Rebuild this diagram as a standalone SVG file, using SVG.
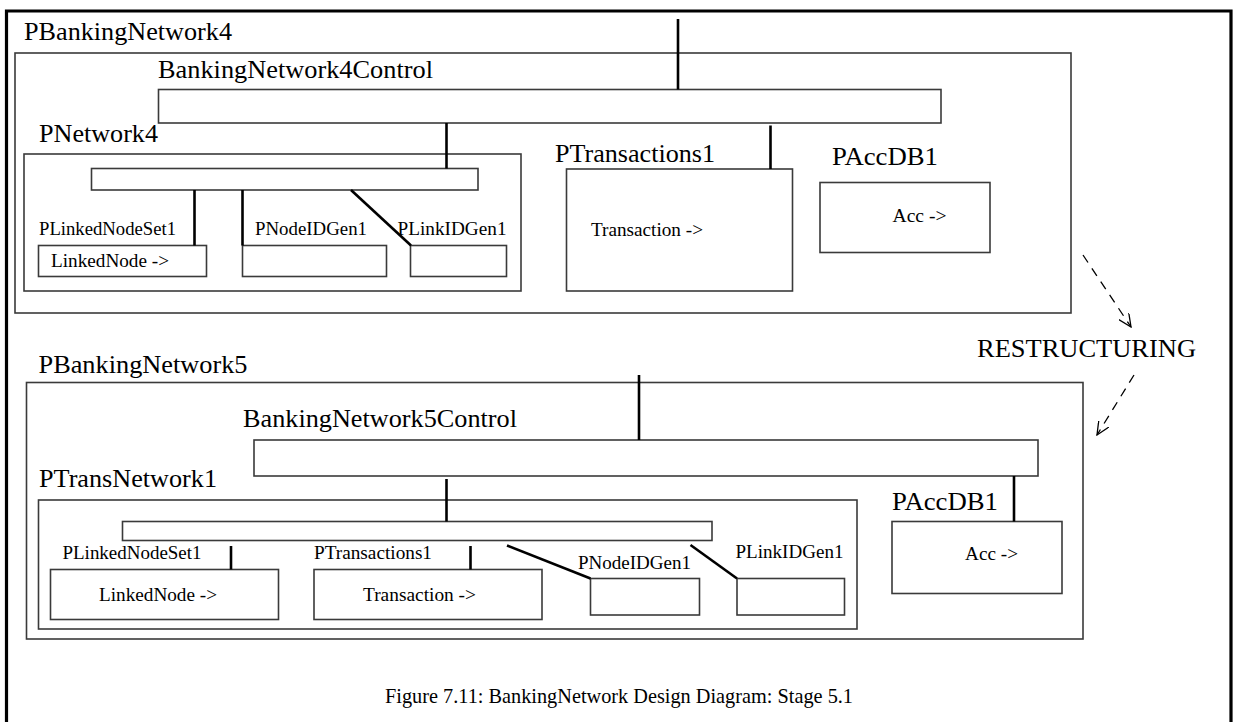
<svg xmlns="http://www.w3.org/2000/svg" width="1239" height="722" viewBox="0 0 1239 722">
  <style>
    .box { fill: #fff; stroke: #3a3a3a; stroke-width: 1.6; }
    .bar { fill: #fff; stroke: #3a3a3a; stroke-width: 1.6; }
    .link { stroke: #000; stroke-width: 2.6; fill: none; }
    .flow { stroke: #000; stroke-width: 1.3; fill: none; stroke-dasharray: 9 7; }
    .frame { stroke: #000; stroke-width: 3.2; fill: none; }
    .big { font-family: "Liberation Serif", "Times New Roman", serif; font-size: 26px; fill: #000; }
    .small { font-family: "Liberation Serif", "Times New Roman", serif; font-size: 19px; fill: #000; }
    .caption { font-family: "Liberation Serif", "DejaVu Serif", serif; font-size: 22px; fill: #000; }
  </style>
  <defs>
    <marker id="openHead" viewBox="0 0 14 12" refX="13" refY="6" markerWidth="14" markerHeight="12" markerUnits="userSpaceOnUse" orient="auto">
      <path d="M0,0 L13,6 L0,12" fill="none" stroke="#000" stroke-width="1.3"/>
    </marker>
  </defs>

  <rect width="1239" height="722" fill="#fff"/>

  <!-- page frame (open at the bottom) -->
  <path class="frame" d="M6.5,722 V11 H1231 V722"/>

  <!-- ===== Stage: PBankingNetwork4 ===== -->
  <g id="PBankingNetwork4">
    <text class="big" x="24" y="40" textLength="208" lengthAdjust="spacingAndGlyphs">PBankingNetwork4</text>
    <rect class="box" x="15" y="53" width="1056" height="260"/>
  </g>
  <g id="BankingNetwork4Control">
    <text class="big" x="158" y="78" textLength="275" lengthAdjust="spacingAndGlyphs">BankingNetwork4Control</text>
    <rect class="bar" x="158.5" y="89.5" width="782.5" height="33.5"/>
  </g>
  <g id="PNetwork4">
    <text class="big" x="39" y="142" textLength="119" lengthAdjust="spacingAndGlyphs">PNetwork4</text>
    <rect class="box" x="24" y="154" width="497" height="137"/>
    <rect class="bar" x="91.5" y="168.5" width="386.5" height="21.5"/>
  </g>
  <g id="PLinkedNodeSet1-a">
    <text class="small" x="39" y="235" textLength="137" lengthAdjust="spacingAndGlyphs">PLinkedNodeSet1</text>
    <rect class="box" x="38.5" y="245.5" width="168" height="31"/>
    <text class="small" x="51" y="266.5" textLength="118" lengthAdjust="spacingAndGlyphs">LinkedNode -&gt;</text>
  </g>
  <g id="PNodeIDGen1-a">
    <text class="small" x="255" y="235" textLength="112" lengthAdjust="spacingAndGlyphs">PNodeIDGen1</text>
    <rect class="box" x="242.5" y="245.5" width="144" height="31"/>
  </g>
  <g id="PLinkIDGen1-a">
    <text class="small" x="397.5" y="235" textLength="109" lengthAdjust="spacingAndGlyphs">PLinkIDGen1</text>
    <rect class="box" x="410.5" y="245.5" width="96" height="31"/>
  </g>
  <g id="PTransactions1-a">
    <text class="big" x="555" y="162" textLength="160" lengthAdjust="spacingAndGlyphs">PTransactions1</text>
    <rect class="box" x="566.5" y="169" width="226" height="122"/>
    <text class="small" x="591" y="236" textLength="112" lengthAdjust="spacingAndGlyphs">Transaction -&gt;</text>
  </g>
  <g id="PAccDB1-a">
    <text class="big" x="832" y="165" textLength="106" lengthAdjust="spacingAndGlyphs">PAccDB1</text>
    <rect class="box" x="820" y="182.5" width="170" height="70"/>
    <text class="small" x="892.5" y="222" textLength="54" lengthAdjust="spacingAndGlyphs">Acc -&gt;</text>
  </g>

  <!-- ===== Stage: PBankingNetwork5 ===== -->
  <g id="PBankingNetwork5">
    <text class="big" x="38.5" y="373" textLength="209" lengthAdjust="spacingAndGlyphs">PBankingNetwork5</text>
    <rect class="box" x="26.5" y="382.5" width="1056.5" height="256.5"/>
  </g>
  <g id="BankingNetwork5Control">
    <text class="big" x="243" y="427" textLength="274" lengthAdjust="spacingAndGlyphs">BankingNetwork5Control</text>
    <rect class="bar" x="254" y="440" width="784" height="36"/>
  </g>
  <g id="PTransNetwork1">
    <text class="big" x="39" y="487" textLength="178" lengthAdjust="spacingAndGlyphs">PTransNetwork1</text>
    <rect class="box" x="38.5" y="500" width="818.5" height="129"/>
    <rect class="bar" x="122.5" y="521.5" width="589.5" height="19"/>
  </g>
  <g id="PLinkedNodeSet1-b">
    <text class="small" x="62.5" y="559" textLength="139" lengthAdjust="spacingAndGlyphs">PLinkedNodeSet1</text>
    <rect class="box" x="50.5" y="569.5" width="228" height="50"/>
    <text class="small" x="99" y="601" textLength="118" lengthAdjust="spacingAndGlyphs">LinkedNode -&gt;</text>
  </g>
  <g id="PTransactions1-b">
    <text class="small" x="314" y="559" textLength="118" lengthAdjust="spacingAndGlyphs">PTransactions1</text>
    <rect class="box" x="314" y="569.5" width="228" height="50"/>
    <text class="small" x="363" y="601" textLength="113" lengthAdjust="spacingAndGlyphs">Transaction -&gt;</text>
  </g>
  <g id="PNodeIDGen1-b">
    <text class="small" x="578" y="569" textLength="113" lengthAdjust="spacingAndGlyphs">PNodeIDGen1</text>
    <rect class="box" x="590.5" y="578.5" width="109" height="36.5"/>
  </g>
  <g id="PLinkIDGen1-b">
    <text class="small" x="735.5" y="558" textLength="108" lengthAdjust="spacingAndGlyphs">PLinkIDGen1</text>
    <rect class="box" x="737" y="578.5" width="107.5" height="36.5"/>
  </g>
  <g id="PAccDB1-b">
    <text class="big" x="892" y="510" textLength="106" lengthAdjust="spacingAndGlyphs">PAccDB1</text>
    <rect class="box" x="892" y="521.5" width="170" height="72"/>
    <text class="small" x="965" y="560" textLength="53" lengthAdjust="spacingAndGlyphs">Acc -&gt;</text>
  </g>

  <!-- restructuring step between the two stages -->
  <g id="RESTRUCTURING">
    <text class="big" x="977" y="357" textLength="219" lengthAdjust="spacingAndGlyphs">RESTRUCTURING</text>
  </g>

  <!-- connectors -->
  <g id="connectors">
    <!-- stage 4 -->
    <line class="link" x1="678" y1="19" x2="678" y2="89.5"/>
    <line class="link" x1="446.5" y1="123" x2="446.5" y2="168.5"/>
    <line class="link" x1="770.5" y1="125.5" x2="770.5" y2="169"/>
    <line class="link" x1="194.5" y1="190" x2="194.5" y2="245.5"/>
    <line class="link" x1="242.5" y1="190" x2="242.5" y2="245.5"/>
    <line class="link" x1="351" y1="190" x2="411" y2="245.5"/>
    <!-- stage 5 -->
    <line class="link" x1="639" y1="375" x2="639" y2="440"/>
    <line class="link" x1="446.5" y1="479" x2="446.5" y2="521.5"/>
    <line class="link" x1="1014" y1="476" x2="1014" y2="521.5"/>
    <line class="link" x1="231" y1="546" x2="231" y2="569.5"/>
    <line class="link" x1="470.5" y1="546" x2="470.5" y2="569.5"/>
    <line class="link" x1="507" y1="545.5" x2="590.5" y2="578.5"/>
    <line class="link" x1="690.5" y1="545" x2="737" y2="578.5"/>
    <!-- restructuring arrows -->
    <line class="flow" x1="1083" y1="255" x2="1131" y2="327" marker-end="url(#openHead)"/>
    <line class="flow" x1="1134" y1="375" x2="1097" y2="435" marker-end="url(#openHead)"/>
  </g>

  <text class="caption" x="385" y="703" textLength="468" lengthAdjust="spacingAndGlyphs">Figure 7.11: BankingNetwork Design Diagram: Stage 5.1</text>
</svg>
